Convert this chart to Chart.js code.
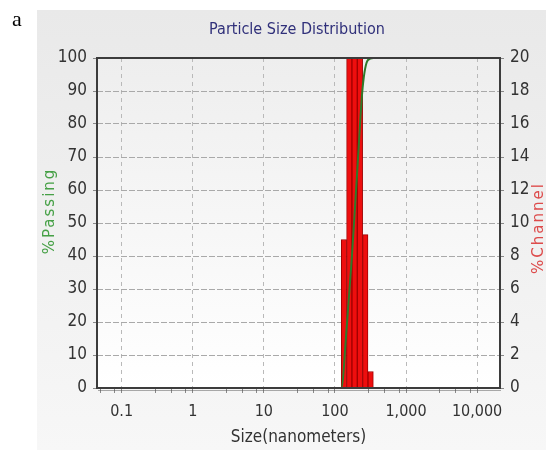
<!DOCTYPE html>
<html lang="en">
<head>
<meta charset="UTF-8">
<title>Particle Size Distribution</title>
<script src="https://cdn.jsdelivr.net/npm/chart.js"></script>
<style>
  html, body { margin: 0; padding: 0; background: #fff; }
  #wrap { position: relative; width: 546px; height: 450px; }
  #panelLabel { position: absolute; left: 12px; top: 6px; font: 22px "Liberation Serif", "DejaVu Serif", serif; color: #000; }
</style>
</head>
<body>
<div id="wrap">
  <canvas id="psd" width="546" height="450"></canvas>
  <div id="panelLabel">a</div>
</div>
<script>
// histogram channels (nm, geometric centre of each channel) and % in channel
const channelSizes = [133.9, 159.2, 189.3, 225.1, 267.6, 318.2];
const channelPercent = [9.0, 28.5, 27.0, 25.2, 9.3, 1.0];

// cumulative curve (% passing)
const passingSizes = [1, 100, 122.8, 146.0, 173.6, 206.4, 245.4, 291.8, 347.0, 6300];
const passingPercent = [0, 0, 0, 18, 40, 66, 91, 99.4, 100, 100];

// axis ticks
const sizeTicks = [0.1, 1, 10, 100, 1000, 10000];
const sizeMinorTicks = [0.05, 0.08, 0.3, 0.5, 0.8, 3, 5, 8, 30, 50, 80, 300, 500, 800, 3000, 5000, 8000];
const passingStep = 10;
const channelStep = 2;

const NARROW = '"Liberation Sans Narrow", "DejaVu Sans Condensed", "Roboto Condensed", "Liberation Sans", sans-serif';

const frame = {
    id: 'frame',
    beforeDraw(chart) {
        const ctx = chart.ctx;
        const a = chart.chartArea;
        ctx.save();
        ctx.fillStyle = '#fff';
        ctx.fillRect(0, 0, chart.width, chart.height);
        // grey panel
        let g = ctx.createLinearGradient(0, 10, 0, chart.height);
        g.addColorStop(0, '#e9e9e9');
        g.addColorStop(1, '#f7f7f7');
        ctx.fillStyle = g;
        ctx.fillRect(37, 10, chart.width - 37, chart.height - 10);
        // plot area
        g = ctx.createLinearGradient(0, a.top, 0, a.bottom);
        g.addColorStop(0, '#eeeeee');
        g.addColorStop(1, '#ffffff');
        ctx.fillStyle = g;
        ctx.fillRect(a.left, a.top, a.right - a.left, a.bottom - a.top);
        ctx.restore();
    },
    afterDatasetsDraw(chart) {
        const ctx = chart.ctx;
        const a = chart.chartArea;
        ctx.save();
        ctx.strokeStyle = '#3c3c3c';
        ctx.lineWidth = 2;
        ctx.strokeRect(a.left, a.top, a.right - a.left, a.bottom - a.top);
        ctx.strokeStyle = 'rgba(90,90,90,0.5)';
        ctx.lineWidth = 1;
        ctx.beginPath();
        ctx.moveTo(a.left + 1, a.bottom + 2.5);
        ctx.lineTo(a.right + 1, a.bottom + 2.5);
        ctx.stroke();
        ctx.restore();
    },
    afterDraw(chart) {
        const ctx = chart.ctx;
        const a = chart.chartArea;
        const midY = (a.top + a.bottom) / 2;
        ctx.save();
        ctx.textAlign = 'center';
        ctx.textBaseline = 'middle';
        ctx.fillStyle = '#30307a';
        ctx.font = '16px ' + NARROW;
        ctx.fillText('Particle Size Distribution', 297, 30);

        ctx.font = '15px "DejaVu Sans", sans-serif';
        ctx.letterSpacing = '2px';
        ctx.fillStyle = '#46a046';
        ctx.translate(50, midY - 12);
        ctx.rotate(-Math.PI / 2);
        ctx.fillText('%Passing', 0, 0);
        ctx.restore();

        ctx.save();
        ctx.textAlign = 'center';
        ctx.textBaseline = 'middle';
        ctx.font = '15px "DejaVu Sans", sans-serif';
        ctx.letterSpacing = '2px';
        ctx.fillStyle = '#dd4b4b';
        ctx.translate(539, midY + 5);
        ctx.rotate(-Math.PI / 2);
        ctx.fillText('%Channel', 0, 0);
        ctx.restore();
    }
};

new Chart(document.getElementById('psd'), {
    type: 'bar',
    data: {
        datasets: [{
            type: 'line',
            label: '%Passing',
            data: passingSizes.map((s, i) => ({ x: s, y: passingPercent[i] })),
            yAxisID: 'y',
            borderColor: '#2f7a2a',
            borderWidth: 2,
            pointRadius: 0,
            cubicInterpolationMode: 'monotone',
            fill: false,
            order: 0
        }, {
            type: 'bar',
            label: '%Channel',
            data: channelSizes.map((s, i) => ({ x: s, y: channelPercent[i] })),
            yAxisID: 'y2',
            backgroundColor: '#ee0e0e',
            borderColor: '#a00000',
            borderWidth: 1,
            barPercentage: 1,
            categoryPercentage: 1,
            order: 1
        }]
    },
    options: {
        responsive: false,
        animation: false,
        layout: { padding: { top: 58, left: 0, right: 0, bottom: 0 } },
        plugins: {
            legend: { display: false },
            tooltip: { enabled: false },
            title: { display: false }
        },
        scales: {
            x: {
                type: 'logarithmic',
                min: 0.045,
                max: 21000,
                offset: false,
                afterBuildTicks(scale) {
                    scale.ticks = sizeTicks.concat(sizeMinorTicks).sort((p, q) => p - q)
                        .map(v => ({ value: v, major: sizeTicks.includes(v) }));
                },
                grid: {
                    offset: false,
                    color: c => (c.tick && c.tick.major) ? '#b9b9b9' : 'rgba(0,0,0,0)',
                    tickColor: '#888',
                    tickLength: 5
                },
                border: { display: false, dash: [4, 4] },
                ticks: {
                    autoSkip: false,
                    maxRotation: 0,
                    padding: 9,
                    color: '#333',
                    font: { family: NARROW, size: 16 },
                    callback: v => sizeTicks.includes(v) ? v.toLocaleString('en-US') : ''
                },
                title: {
                    display: true,
                    text: 'Size(nanometers)',
                    color: '#333',
                    font: { family: NARROW, size: 17 },
                    padding: { top: 0, bottom: 2 }
                },
                afterFit(s) { s.height = 62; }
            },
            y: {
                position: 'left',
                min: 0,
                max: 100,
                ticks: { stepSize: passingStep, padding: 6, color: '#333', font: { family: NARROW, size: 17 } },
                grid: { color: '#a9a9a9', tickColor: '#888', tickLength: 4 },
                border: { display: false, dash: [6, 2] },
                afterFit(s) { s.width = 97; }
            },
            y2: {
                position: 'right',
                min: 0,
                max: 20,
                ticks: { stepSize: channelStep, padding: 6, color: '#333', font: { family: NARROW, size: 17 } },
                grid: { drawOnChartArea: false, tickColor: '#888', tickLength: 4 },
                border: { display: false },
                afterFit(s) { s.width = 46; }
            }
        }
    },
    plugins: [frame]
});
</script>
</body>
</html>
